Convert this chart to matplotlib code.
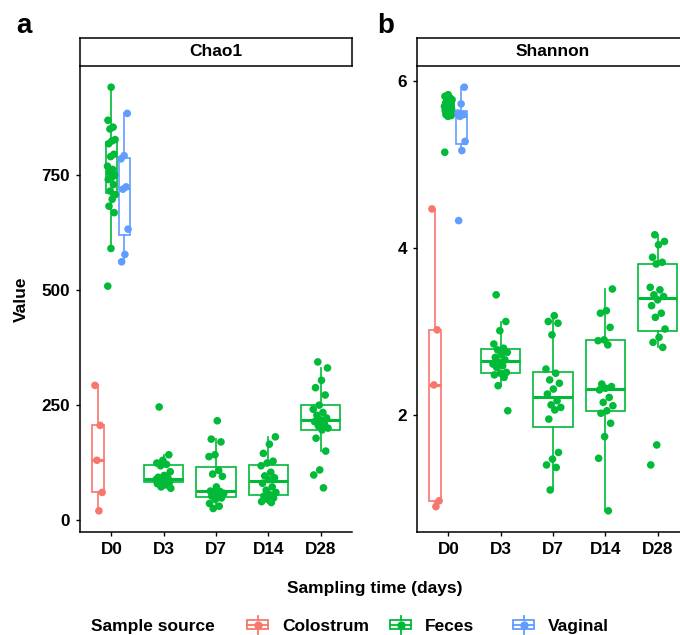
import numpy as np
import matplotlib
matplotlib.use("Agg")
import matplotlib.pyplot as plt
from matplotlib import font_manager as fm
from matplotlib.patches import Rectangle
from matplotlib.lines import Line2D
from matplotlib.legend_handler import HandlerBase

names = {f.name for f in fm.fontManager.ttflist}
FONT = "Liberation Sans Narrow" if "Liberation Sans Narrow" in names else "Liberation Sans"
plt.rcParams["font.family"] = [FONT, "DejaVu Sans"]
plt.rcParams["font.weight"] = "bold"

# ---------------- data ----------------
days = ["D0", "D3", "D7", "D14", "D28"]
sources = ["Colostrum", "Feces", "Vaginal"]
colors = {"Colostrum": "#F8766D", "Feces": "#00BA38", "Vaginal": "#619CFF"}

chao1_colostrum_d0 = [293, 206, 130, 60, 20]
chao1_feces_d0 = [942, 870, 855, 851, 828, 825, 819, 796, 791, 770, 763, 756,
                  750, 745, 741, 730, 716, 708, 698, 683, 669, 591, 509]
chao1_vaginal_d0 = [885, 793, 786, 725, 720, 633, 578, 562]
chao1_feces_d3 = [246, 142, 130, 124, 121, 118, 105, 97, 93, 91, 89, 88, 86, 84,
                  82, 81, 79, 76, 72, 69]
chao1_feces_d7 = [216, 176, 170, 142, 138, 108, 100, 95, 72, 63, 62, 60, 58, 55,
                  52, 48, 45, 36, 30, 25]
chao1_feces_d14 = [181, 165, 145, 128, 124, 118, 104, 96, 92, 88, 80, 72, 65, 60,
                   55, 52, 48, 45, 40, 38]
chao1_feces_d28 = [344, 331, 304, 288, 272, 250, 241, 234, 228, 222, 218, 214,
                   210, 205, 200, 196, 178, 150, 109, 98, 70]

shannon_colostrum_d0 = [4.47, 3.02, 2.36, 0.97, 0.90]
shannon_feces_d0 = [5.84, 5.82, 5.80, 5.79, 5.78, 5.76, 5.74, 5.72, 5.71, 5.70,
                    5.69, 5.68, 5.67, 5.66, 5.65, 5.64, 5.63, 5.62, 5.61, 5.60,
                    5.59, 5.58, 5.15]
shannon_vaginal_d0 = [5.93, 5.73, 5.62, 5.60, 5.58, 5.28, 5.17, 4.33]
shannon_feces_d3 = [3.44, 3.12, 3.01, 2.85, 2.80, 2.78, 2.75, 2.72, 2.69, 2.66,
                    2.63, 2.61, 2.59, 2.57, 2.51, 2.50, 2.48, 2.45, 2.35, 2.05]
shannon_feces_d7 = [3.19, 3.12, 3.10, 2.96, 2.55, 2.50, 2.42, 2.38, 2.31, 2.25,
                    2.17, 2.12, 2.09, 2.06, 1.95, 1.55, 1.47, 1.40, 1.37, 1.10]
shannon_feces_d14 = [3.51, 3.25, 3.22, 3.05, 2.90, 2.89, 2.84, 2.37, 2.34, 2.32,
                     2.30, 2.21, 2.15, 2.11, 2.05, 2.02, 1.90, 1.74, 1.48, 0.85]
shannon_feces_d28 = [4.16, 4.08, 4.04, 3.89, 3.83, 3.81, 3.53, 3.50, 3.44, 3.42,
                     3.38, 3.31, 3.22, 3.17, 3.03, 2.93, 2.87, 2.81, 1.64, 1.40]

chao1_groups = [("D0", "Colostrum", chao1_colostrum_d0), ("D0", "Feces", chao1_feces_d0),
                ("D0", "Vaginal", chao1_vaginal_d0), ("D3", "Feces", chao1_feces_d3),
                ("D7", "Feces", chao1_feces_d7), ("D14", "Feces", chao1_feces_d14),
                ("D28", "Feces", chao1_feces_d28)]
shannon_groups = [("D0", "Colostrum", shannon_colostrum_d0), ("D0", "Feces", shannon_feces_d0),
                  ("D0", "Vaginal", shannon_vaginal_d0), ("D3", "Feces", shannon_feces_d3),
                  ("D7", "Feces", shannon_feces_d7), ("D14", "Feces", shannon_feces_d14),
                  ("D28", "Feces", shannon_feces_d28)]
chao1_ticks = [0, 250, 500, 750]
shannon_ticks = [2, 4, 6]

# ---------------- layout ----------------
W, H = 680, 635
NARROW = "Narrow" in FONT
FS = 15 if NARROW else 12.5
TFS = 15 if NARROW else 12.3


def box_px(x0, y0, x1, y1):
    return [x0 / W, 1 - y1 / H, (x1 - x0) / W, (y1 - y0) / H]


fig = plt.figure(figsize=(W / 100, H / 100), dpi=100)


def jitter(n, width, seed):
    return width * (2 * ((np.arange(n) * 0.6180339887 + seed) % 1.0) - 1)


def draw_panel(rect, strip_rect, groups, ticks, title):
    ax = fig.add_axes(box_px(*rect))
    allv = np.concatenate([np.asarray(g[2], float) for g in groups])
    lo, hi = allv.min(), allv.max()
    pad = 0.05 * (hi - lo)
    ax.set_ylim(lo - pad, hi + pad)
    ax.set_xlim(0.4, len(days) + 0.6)
    n_at_day = {d: sum(1 for g in groups if g[0] == d) for d in days}
    seed = 0.1
    for d, s, vals in groups:
        base = days.index(d) + 1
        n_here = n_at_day[d]
        if n_here > 1:
            k = [g[1] for g in groups if g[0] == d].index(s)
            pos = base + (k - (n_here - 1) / 2) * (0.75 / n_here)
            w = 0.75 / n_here * 0.9
            jw = 0.08
        else:
            pos = base
            w = 0.75
            jw = 0.15
        c = colors[s]
        ax.boxplot([vals], positions=[pos], widths=[w], whis=1.5, showfliers=False,
                   showcaps=False, patch_artist=True, manage_ticks=False,
                   boxprops=dict(facecolor="white", edgecolor=c, linewidth=1.2),
                   whiskerprops=dict(color=c, linewidth=1.2),
                   medianprops=dict(color=c, linewidth=2.2), zorder=2)
        xs = pos + jitter(len(vals), jw, seed)
        seed += 0.37
        ax.scatter(xs, vals, s=30, color=c, edgecolors="none", zorder=3)
    ax.set_xticks(range(1, len(days) + 1))
    ax.set_xticklabels(days)
    ax.set_yticks(ticks)
    ax.set_yticklabels([str(t) for t in ticks])
    for sp in ["top", "right"]:
        ax.spines[sp].set_visible(False)
    for sp in ["left", "bottom"]:
        ax.spines[sp].set_linewidth(1.1)
    ax.tick_params(direction="out", length=3, width=1, labelsize=TFS, pad=4,
                   colors="black")
    for lab in ax.get_xticklabels() + ax.get_yticklabels():
        lab.set_fontweight("bold")
    # strip
    st = fig.add_axes(box_px(*strip_rect))
    st.set_xticks([])
    st.set_yticks([])
    st.set_facecolor("white")
    for sp in st.spines.values():
        sp.set_linewidth(1.1)
        sp.set_color("black")
    st.text(0.5, 0.5, title, transform=st.transAxes, ha="center", va="center",
            fontsize=FS, fontweight="bold")
    return ax


draw_panel((80, 66, 352, 532), (80, 38, 352, 66), chao1_groups, chao1_ticks, "Chao1")
draw_panel((417, 66, 689, 532), (417, 38, 689, 66), shannon_groups, shannon_ticks, "Shannon")

fig.text(16 / W, 1 - 33 / H, "a", fontsize=20, fontweight="bold", va="baseline", ha="left")
fig.text(377 / W, 1 - 33 / H, "b", fontsize=20, fontweight="bold", va="baseline", ha="left")
fig.text(21 / W, 1 - 299 / H, "Value", rotation=90, fontsize=FS, fontweight="bold",
         ha="center", va="center")
fig.text(375 / W, 1 - 588 / H, "Sampling time (days)", fontsize=FS, fontweight="bold",
         ha="center", va="center")
fig.text(91 / W, 1 - 627 / H, "Sample source", fontsize=FS, fontweight="bold",
         ha="left", va="center")


class BoxKey(HandlerBase):
    def create_artists(self, legend, orig, xd, yd, w, h, fs, trans):
        c = orig.get_color()
        x0, y0 = -xd, -yd
        r = Rectangle((x0, y0 + 0.22 * h), w, 0.56 * h, facecolor="white",
                      edgecolor=c, lw=1.3, transform=trans)
        m = Line2D([x0, x0 + w], [y0 + 0.5 * h] * 2, color=c, lw=1.3, transform=trans)
        w1 = Line2D([x0 + w / 2] * 2, [y0 + 0.78 * h, y0 + 1.05 * h], color=c, lw=1.3,
                    transform=trans)
        w2 = Line2D([x0 + w / 2] * 2, [y0 - 0.05 * h, y0 + 0.22 * h], color=c, lw=1.3,
                    transform=trans)
        dot = Line2D([x0 + w / 2], [y0 + 0.5 * h], marker="o", ms=5, color=c,
                     linestyle="none", transform=trans)
        return [r, m, w1, w2, dot]


key_x = {"Colostrum": 247, "Feces": 390, "Vaginal": 513}
for s in sources:
    h = Line2D([], [], color=colors[s])
    fig.legend([h], [s], handler_map={Line2D: BoxKey()}, loc="center left",
               bbox_to_anchor=(key_x[s] / W, 1 - 625 / H), frameon=False,
               borderpad=0, borderaxespad=0, handlelength=21 / (FS * 100 / 72),
               handleheight=1.1, handletextpad=14 / (FS * 100 / 72),
               prop=dict(size=FS, weight="bold"))

fig.savefig("out.png", dpi=100)
